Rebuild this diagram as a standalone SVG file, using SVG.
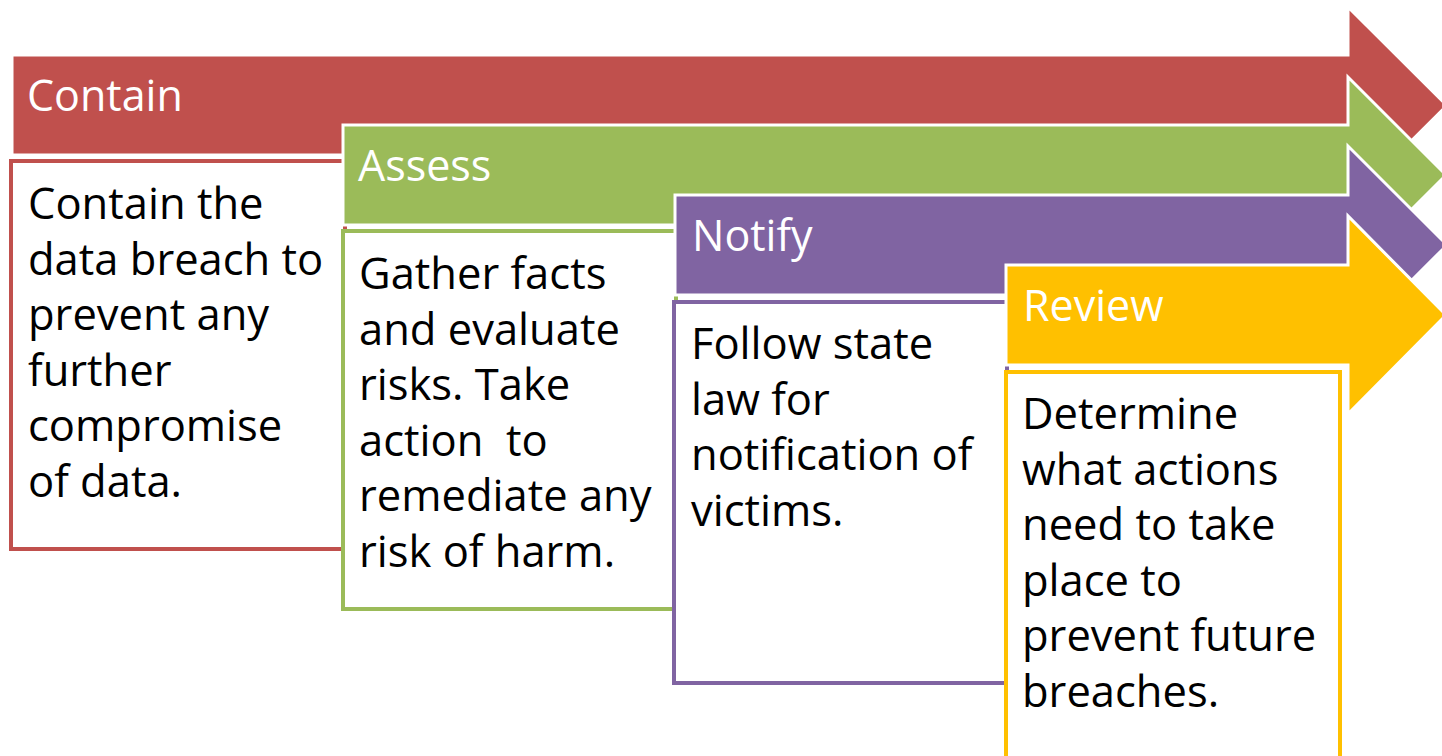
<svg xmlns="http://www.w3.org/2000/svg" width="1442" height="756" viewBox="0 0 1442 756">
<style>
.arrow{stroke:#fff;stroke-width:3;stroke-linejoin:miter}
.box{fill:#fff;stroke-width:4}
.title{font-family:"Open Sans","Noto Sans","Liberation Sans",sans-serif;font-size:43px;fill:#fff}
.body{font-family:"Open Sans","Noto Sans","Liberation Sans",sans-serif;font-size:43.5px;fill:#000;white-space:pre}
</style>
<rect x="0" y="0" width="1442" height="756" fill="#fff"/>
<g id="contain">
<polygon class="arrow" fill="#C0504D" points="12,55 1348,55 1348,7 1447,105.5 1348,204 1348,155 12,155"/>
<text class="title" x="27" y="111">Contain</text>
<rect class="box" stroke="#C0504D" x="11" y="161" width="334" height="388"/>
<text class="body" x="28"><tspan x="28" y="219">Contain the</tspan><tspan x="28" y="275">data breach to</tspan><tspan x="28" y="330">prevent any</tspan><tspan x="28" y="386">further</tspan><tspan x="28" y="441">compromise</tspan><tspan x="28" y="497">of data.</tspan></text>
</g>
<g id="assess">
<polygon class="arrow" fill="#9BBB59" points="343,125 1348,125 1348,77 1446,175 1348,273 1348,225 343,225"/>
<text class="title" x="358" y="181">Assess</text>
<rect class="box" stroke="#9BBB59" x="343" y="231" width="333" height="378"/>
<text class="body"><tspan x="359" y="289">Gather facts</tspan><tspan x="359" y="345">and evaluate</tspan><tspan x="359" y="400">risks. Take</tspan><tspan x="359" y="456">action  to</tspan><tspan x="359" y="511">remediate any</tspan><tspan x="359" y="567">risk of harm.</tspan></text>
</g>
<g id="notify">
<polygon class="arrow" fill="#8064A2" points="675,195 1348,195 1348,146 1447,245 1348,344 1348,295 675,295"/>
<text class="title" x="692" y="251">Notify</text>
<rect class="box" stroke="#8064A2" x="674" y="302" width="333" height="381"/>
<text class="body"><tspan x="691" y="359">Follow state</tspan><tspan x="691" y="415">law for</tspan><tspan x="691" y="470">notification of</tspan><tspan x="691" y="526">victims.</tspan></text>
</g>
<g id="review">
<polygon class="arrow" fill="#FFC000" points="1006,265 1348,265 1348,216 1446,315 1348,414 1348,365 1006,365"/>
<text class="title" x="1023" y="321">Review</text>
<rect class="box" stroke="#FFC000" x="1006" y="372" width="334" height="386"/>
<text class="body"><tspan x="1022" y="429">Determine</tspan><tspan x="1022" y="485">what actions</tspan><tspan x="1022" y="540">need to take</tspan><tspan x="1022" y="596">place to</tspan><tspan x="1022" y="651">prevent future</tspan><tspan x="1022" y="707">breaches.</tspan></text>
</g>
<g id="connectors"/>
</svg>
